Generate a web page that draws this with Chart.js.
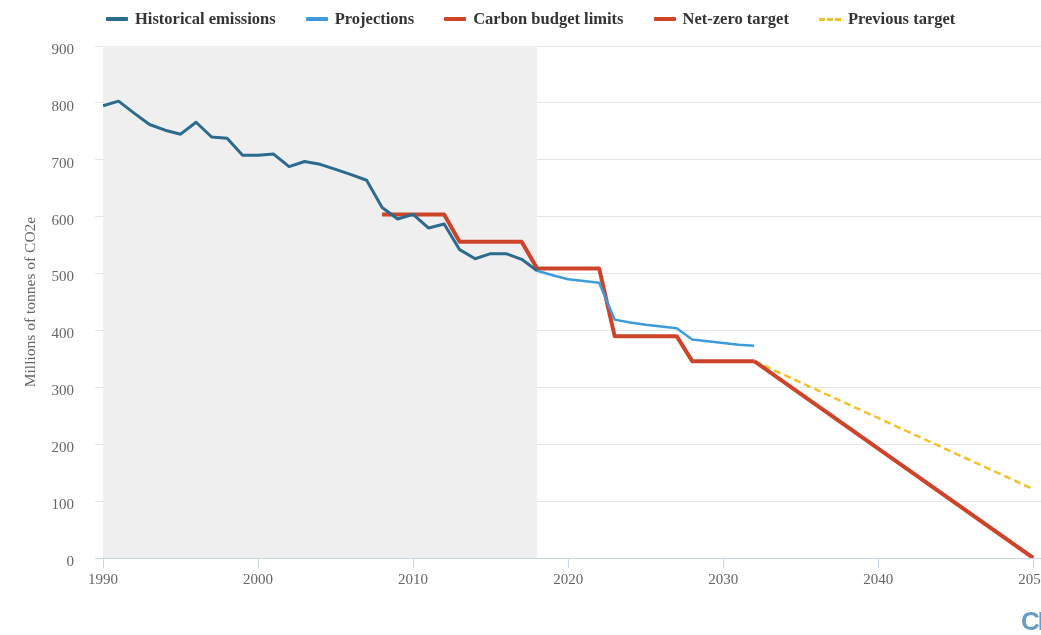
<!DOCTYPE html>
<html>
<head>
<meta charset="utf-8">
<script src="https://cdn.jsdelivr.net/npm/chart.js@4.4.1/dist/chart.umd.min.js"></script>
<style>
  html, body { margin: 0; padding: 0; background: #fff; overflow: hidden; }
  #wrap { position: relative; width: 1041px; height: 635px; }
  #legend {
    position: absolute; left: 106px; top: 9px; display: flex; align-items: center;
    font-family: "Liberation Serif", serif; font-weight: bold; font-size: 16.5px; color: #333;
  }
  .item { display: flex; align-items: center; margin-right: 30px; white-space: nowrap; }
  .sw { width: 22px; height: 4px; margin-right: 7px; border-radius: 1px; }
  .dash { width: 22px; height: 0; margin-right: 7px; border-top: 3px dashed #f2c12e; }
  #logo {
    position: absolute; left: 1021px; top: 606px; font-family: "Liberation Sans", sans-serif;
    font-weight: bold; font-size: 26px; color: #6b9cc4; letter-spacing: -2px;
  }
</style>
</head>
<body>
<div id="wrap">
  <canvas id="emissionsChart" width="1041" height="635"></canvas>
  <div id="legend">
    <div class="item"><span class="sw" style="background:#2c6a8e"></span>Historical emissions</div>
    <div class="item"><span class="sw" style="background:#3d9bdb"></span>Projections</div>
    <div class="item"><span class="sw" style="background:#cd442b"></span>Carbon budget limits</div>
    <div class="item"><span class="sw" style="background:#cd442b"></span>Net-zero target</div>
    <div class="item"><span class="dash"></span>Previous target</div>
  </div>
  <div id="logo">CB</div>
</div>
<script>
// Historical emissions (MtCO2e)
const histYears = [1990, 1991, 1992, 1993, 1994, 1995, 1996, 1997, 1998, 1999,
                   2000, 2001, 2002, 2003, 2004, 2005, 2006, 2007, 2008, 2009,
                   2010, 2011, 2012, 2013, 2014, 2015, 2016, 2017, 2018];
const histValues = [795, 803, 782, 762, 752, 745, 766, 740, 738, 708,
                    708, 710, 688, 697, 692, 683, 674, 664, 616, 596,
                    604, 580, 587, 542, 526, 535, 535, 525, 505];

// Projections
const projYears = [2018, 2019, 2020, 2021, 2022, 2023, 2024, 2025, 2026, 2027, 2028, 2029, 2030, 2031, 2032];
const projValues = [505, 497, 490, 487, 484, 419, 414, 410, 407, 404, 384, 381, 378, 375, 373];

// Carbon budget limits (annual average per budget period)
const budgetYears = [2008, 2012, 2013, 2017, 2018, 2022, 2023, 2027, 2028, 2032];
const budgetValues = [604, 604, 556, 556, 509, 509, 390, 390, 346, 346];

// Net-zero and previous (80%) target
const netZeroYears = [2032, 2050];
const netZeroValues = [346, 0];
const prevYears = [2032, 2050];
const prevValues = [346, 121];

// Shaded "historical" band
const shadeRange = [1990, 2018];

const xTicks = [1990, 2000, 2010, 2020, 2030, 2040, 2050];

const toPoints = (xs, ys) => xs.map((x, i) => ({ x: x, y: ys[i] }));

const shadePlugin = {
  id: 'shade',
  beforeDatasetsDraw(chart) {
    const { ctx, chartArea, scales } = chart;
    const x0 = scales.x.getPixelForValue(shadeRange[0]);
    const x1 = scales.x.getPixelForValue(shadeRange[1]);
    ctx.save();
    ctx.fillStyle = '#efefef';
    ctx.fillRect(x0, chartArea.top, x1 - x0, chartArea.bottom - chartArea.top);
    ctx.restore();
  }
};

const serif = '"Liberation Serif", serif';

const ctx = document.getElementById('emissionsChart').getContext('2d');
const emissionsChart = new Chart(ctx, {
  type: 'line',
  data: {
    datasets: [
      {
        label: 'Historical emissions',
        data: toPoints(histYears, histValues),
        borderColor: '#2c6a8e',
        borderWidth: 3
      },
      {
        label: 'Projections',
        data: toPoints(projYears, projValues),
        borderColor: '#3d9bdb',
        borderWidth: 2.5
      },
      {
        label: 'Carbon budget limits',
        data: toPoints(budgetYears, budgetValues),
        borderColor: '#cd442b',
        borderWidth: 4
      },
      {
        label: 'Net-zero target',
        data: toPoints(netZeroYears, netZeroValues),
        borderColor: '#cd442b',
        borderWidth: 4
      },
      {
        label: 'Previous target',
        data: toPoints(prevYears, prevValues),
        borderColor: '#f2c12e',
        borderWidth: 2.5,
        borderDash: [7, 4]
      }
    ]
  },
  options: {
    responsive: false,
    animation: false,
    layout: { padding: { top: 46, left: 0, right: 0, bottom: 0 } },
    elements: {
      point: { radius: 0 },
      line: { tension: 0, borderJoinStyle: 'round', borderCapStyle: 'butt' }
    },
    plugins: {
      legend: { display: false },
      tooltip: { enabled: false }
    },
    scales: {
      x: {
        type: 'linear',
        min: 1989.48,
        max: 2050.5,
        afterBuildTicks: (scale) => { scale.ticks = xTicks.map(v => ({ value: v })); },
        afterFit: (scale) => { scale.height = 77; scale.paddingLeft = 0; scale.paddingRight = 0; },
        border: { display: true, color: '#ccd6eb', width: 1 },
        grid: { drawOnChartArea: false, drawTicks: true, tickLength: 10, color: '#ccd6eb' },
        ticks: {
          padding: 3,
          maxRotation: 0,
          autoSkip: false,
          color: '#666',
          font: { family: serif, size: 15 },
          callback: (v) => String(v)
        }
      },
      y: {
        min: 0,
        max: 900,
        afterFit: (scale) => { scale.width = 95; },
        border: { display: false },
        grid: { color: '#e6e6e6', drawTicks: false },
        ticks: {
          stepSize: 100,
          padding: 21,
          labelOffset: 4,
          color: '#666',
          font: { family: serif, size: 15 }
        },
        title: {
          display: true,
          text: 'Millions of tonnes of CO2e',
          color: '#666',
          padding: { top: 22, bottom: 0 },
          font: { family: serif, size: 15.5 }
        }
      }
    }
  },
  plugins: [shadePlugin]
});
</script>
</body>
</html>
